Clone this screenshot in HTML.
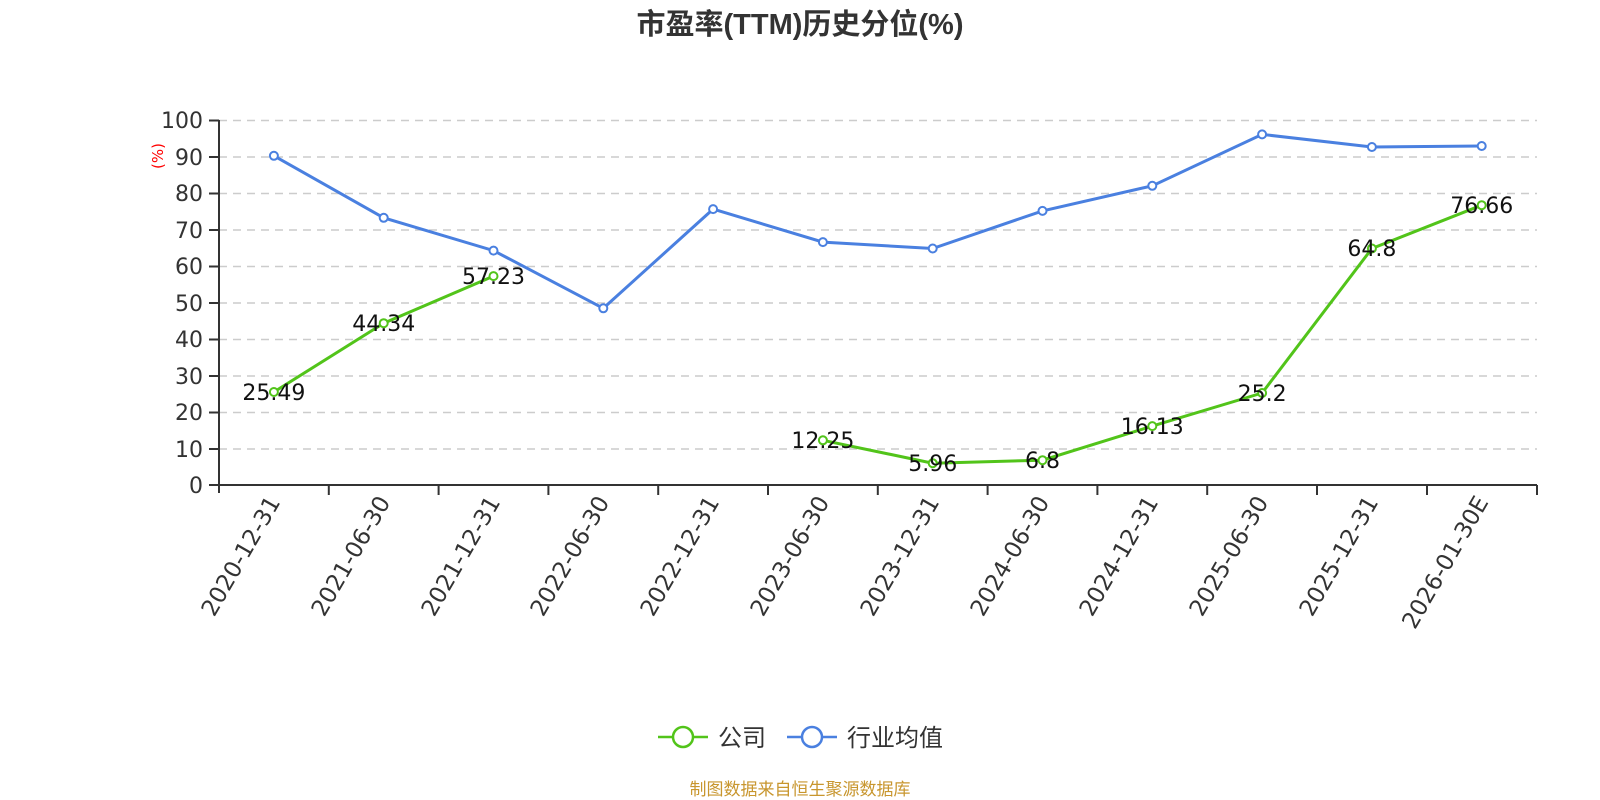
<!DOCTYPE html>
<html><head><meta charset="utf-8"><style>
html,body{margin:0;padding:0;background:#fff;width:1600px;height:800px;overflow:hidden}
text{font-family:"DejaVu Sans","Noto Sans CJK SC",sans-serif}
</style></head><body>
<svg width="1600" height="800" xmlns="http://www.w3.org/2000/svg">
<text x="800" y="34" text-anchor="middle" font-size="29" font-weight="bold" fill="#333" style="font-family:'Liberation Sans','Noto Sans CJK SC',sans-serif">市盈率(TTM)历史分位(%)</text>
<g stroke="#ccc" stroke-width="1.5" stroke-dasharray="8,6">
<line x1="219" x2="1537" y1="120.5" y2="120.5"/>
<line x1="219" x2="1537" y1="157" y2="157"/>
<line x1="219" x2="1537" y1="193.5" y2="193.5"/>
<line x1="219" x2="1537" y1="230" y2="230"/>
<line x1="219" x2="1537" y1="266.5" y2="266.5"/>
<line x1="219" x2="1537" y1="303" y2="303"/>
<line x1="219" x2="1537" y1="339.5" y2="339.5"/>
<line x1="219" x2="1537" y1="376" y2="376"/>
<line x1="219" x2="1537" y1="412.5" y2="412.5"/>
<line x1="219" x2="1537" y1="449" y2="449"/>
</g>
<g stroke="#333" stroke-width="2">
<line x1="219" x2="219" y1="120" y2="493"/>
<line x1="219" x2="1537" y1="485" y2="485"/>
<line x1="209" x2="219" y1="120.5" y2="120.5"/><line x1="209" x2="219" y1="157" y2="157"/>
<line x1="209" x2="219" y1="193.5" y2="193.5"/><line x1="209" x2="219" y1="230" y2="230"/>
<line x1="209" x2="219" y1="266.5" y2="266.5"/><line x1="209" x2="219" y1="303" y2="303"/>
<line x1="209" x2="219" y1="339.5" y2="339.5"/><line x1="209" x2="219" y1="376" y2="376"/>
<line x1="209" x2="219" y1="412.5" y2="412.5"/><line x1="209" x2="219" y1="449" y2="449"/>
<line x1="209" x2="219" y1="485" y2="485"/>
<line x1="328.8" x2="328.8" y1="485" y2="495"/><line x1="438.6" x2="438.6" y1="485" y2="495"/>
<line x1="548.4" x2="548.4" y1="485" y2="495"/><line x1="658.2" x2="658.2" y1="485" y2="495"/>
<line x1="768" x2="768" y1="485" y2="495"/><line x1="877.8" x2="877.8" y1="485" y2="495"/>
<line x1="987.6" x2="987.6" y1="485" y2="495"/><line x1="1097.4" x2="1097.4" y1="485" y2="495"/>
<line x1="1207.2" x2="1207.2" y1="485" y2="495"/><line x1="1317" x2="1317" y1="485" y2="495"/>
<line x1="1427" x2="1427" y1="485" y2="495"/><line x1="1537" x2="1537" y1="485" y2="495"/>
</g>
<g font-size="22" fill="#333" text-anchor="end">
<text x="203" y="128">100</text><text x="203" y="165">90</text><text x="203" y="201">80</text>
<text x="203" y="238">70</text><text x="203" y="274">60</text><text x="203" y="311">50</text>
<text x="203" y="347">40</text><text x="203" y="384">30</text><text x="203" y="420">20</text>
<text x="203" y="457">10</text><text x="203" y="493">0</text>
</g>
<text transform="translate(163,156) rotate(-90)" text-anchor="middle" font-size="15" fill="red">(%)</text>
<g font-size="23" fill="#333" text-anchor="end">
<text transform="translate(281,502) rotate(-60)">2020-12-31</text>
<text transform="translate(391,502) rotate(-60)">2021-06-30</text>
<text transform="translate(501,502) rotate(-60)">2021-12-31</text>
<text transform="translate(610,502) rotate(-60)">2022-06-30</text>
<text transform="translate(720,502) rotate(-60)">2022-12-31</text>
<text transform="translate(830,502) rotate(-60)">2023-06-30</text>
<text transform="translate(940,502) rotate(-60)">2023-12-31</text>
<text transform="translate(1050,502) rotate(-60)">2024-06-30</text>
<text transform="translate(1159,502) rotate(-60)">2024-12-31</text>
<text transform="translate(1269,502) rotate(-60)">2025-06-30</text>
<text transform="translate(1379,502) rotate(-60)">2025-12-31</text>
<text transform="translate(1489,502) rotate(-60)">2026-01-30E</text>
</g>
<polyline fill="none" stroke="#4a80e0" stroke-width="3" points="273.9,155.8 383.7,217.8 493.5,250.6 603.3,308.3 713.1,209.1 822.9,242.1 932.7,248.5 1042.5,210.9 1152.3,185.8 1262.1,134.4 1371.9,147 1481.7,146"/>
<g fill="#fff" stroke="#4a80e0" stroke-width="2">
<circle cx="273.9" cy="155.8" r="4"/><circle cx="383.7" cy="217.8" r="4"/><circle cx="493.5" cy="250.6" r="4"/>
<circle cx="603.3" cy="308.3" r="4"/><circle cx="713.1" cy="209.1" r="4"/><circle cx="822.9" cy="242.1" r="4"/>
<circle cx="932.7" cy="248.5" r="4"/><circle cx="1042.5" cy="210.9" r="4"/><circle cx="1152.3" cy="185.8" r="4"/>
<circle cx="1262.1" cy="134.4" r="4"/><circle cx="1371.9" cy="147" r="4"/><circle cx="1481.7" cy="146" r="4"/>
</g>
<polyline fill="none" stroke="#52c41a" stroke-width="3" points="273.9,392 383.7,323.2 493.5,276.1"/>
<polyline fill="none" stroke="#52c41a" stroke-width="3" points="822.9,440.3 932.7,463.2 1042.5,460.2 1152.3,426.1 1262.1,393 1371.9,248.5 1481.7,205.2"/>
<g fill="#fff" stroke="#52c41a" stroke-width="2">
<circle cx="273.9" cy="392" r="4"/><circle cx="383.7" cy="323.2" r="4"/><circle cx="493.5" cy="276.1" r="4"/>
<circle cx="822.9" cy="440.3" r="4"/><circle cx="932.7" cy="463.2" r="4"/><circle cx="1042.5" cy="460.2" r="4"/>
<circle cx="1152.3" cy="426.1" r="4"/><circle cx="1262.1" cy="393" r="4"/><circle cx="1371.9" cy="248.5" r="4"/>
<circle cx="1481.7" cy="205.2" r="4"/>
</g>
<g font-size="22" fill="#111" text-anchor="middle">
<text x="273.9" y="400">25.49</text><text x="383.7" y="331">44.34</text><text x="493.5" y="284">57.23</text>
<text x="822.9" y="448">12.25</text><text x="932.7" y="471">5.96</text><text x="1042.5" y="468">6.8</text>
<text x="1152.3" y="434">16.13</text><text x="1262.1" y="401">25.2</text><text x="1371.9" y="256">64.8</text>
<text x="1481.7" y="213">76.66</text>
</g>
<line x1="658" x2="708" y1="737" y2="737" stroke="#52c41a" stroke-width="2.5"/>
<circle cx="683" cy="737" r="10" fill="#fff" stroke="#52c41a" stroke-width="2.5"/>
<text x="718" y="746" font-size="24" fill="#333">公司</text>
<line x1="787" x2="837" y1="737" y2="737" stroke="#4a80e0" stroke-width="2.5"/>
<circle cx="812" cy="737" r="10" fill="#fff" stroke="#4a80e0" stroke-width="2.5"/>
<text x="847" y="746" font-size="24" fill="#333">行业均值</text>
<text x="800" y="795" text-anchor="middle" font-size="17" fill="#c8962e">制图数据来自恒生聚源数据库</text>
</svg>
</body></html>
